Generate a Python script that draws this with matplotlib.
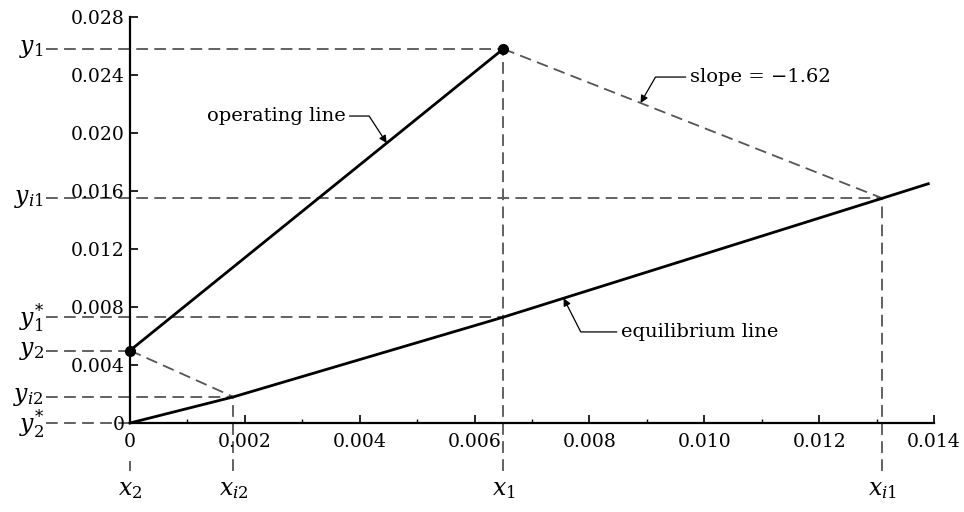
import numpy as np
import matplotlib.pyplot as plt

plt.rcParams['font.family'] = ['DejaVu Serif']
plt.rcParams['mathtext.fontset'] = 'dejavuserif'

# Compositions
x2, y2 = 0.0, 0.0050
x1, y1 = 0.0065, 0.0258
xi1, yi1 = 0.0131, 0.0155
xi2, yi2 = 0.0018, 0.0018
y1_star = 0.0073
y2_star = 0.0

# Equilibrium curve
eq_x = [0.0, 0.0018, 0.0065, 0.0131, 0.0139]
eq_y = [0.0, 0.0018, 0.0073, 0.0155, 0.0165]

# Operating line
op_x = [x2, x1]
op_y = [y2, y1]

x_ticks = [0, 0.002, 0.004, 0.006, 0.008, 0.010, 0.012, 0.014]
x_tick_labels = ['0', '0.002', '0.004', '0.006', '0.008', '0.010', '0.012', '0.014']
y_ticks = [0, 0.004, 0.008, 0.012, 0.016, 0.020, 0.024, 0.028]
y_tick_labels = ['0', '0.004', '0.008', '0.012', '0.016', '0.020', '0.024', '0.028']

fig = plt.figure(figsize=(9.64, 5.12), dpi=100)
ax = fig.add_axes([130 / 964, 89 / 512, 804 / 964, 406 / 512])
ax.set_xlim(0, 0.014)
ax.set_ylim(0, 0.028)

for s in ['top', 'right']:
    ax.spines[s].set_visible(False)
for s in ['left', 'bottom']:
    ax.spines[s].set_linewidth(1.6)

ax.set_xticks(x_ticks)
ax.set_xticklabels(x_tick_labels)
ax.set_xticks(np.arange(0.001, 0.014, 0.002), minor=True)
ax.set_yticks(y_ticks)
ax.set_yticklabels(y_tick_labels)
ax.tick_params(axis='both', which='major', direction='in', length=6, width=1.2,
               labelsize=13.5, colors='black')
ax.tick_params(axis='x', which='minor', direction='in', length=3, width=1.0)
ax.tick_params(axis='y', pad=4)
ax.tick_params(axis='x', pad=7)

dash = dict(color='#555555', lw=1.3, dashes=(6.5, 3.5), clip_on=False, zorder=1)
x_left = -0.00147   # where the left-hand dashed leaders start
y_low = -0.0033     # where the bottom dashed leaders end

# horizontal guides to the left labels
for yv, xv in [(y1, x1), (yi1, xi1), (y1_star, x1), (y2, x2), (yi2, xi2), (y2_star, 0.0)]:
    ax.plot([x_left, xv], [yv, yv], **dash)

# vertical guides down to the bottom labels
for xv, yv in [(x1, y1), (xi1, yi1), (xi2, yi2)]:
    ax.plot([xv, xv], [y_low, yv], **dash)
ax.plot([x2, x2], [-0.0026, y_low], **dash)

# tie lines of slope -1.62
ax.plot([x1, xi1], [y1, yi1], **dash)
ax.plot([x2, xi2], [y2, yi2], **dash)

# operating and equilibrium lines
ax.plot(op_x, op_y, color='black', lw=2.0, zorder=3, clip_on=False)
ax.plot(eq_x, eq_y, color='black', lw=2.0, zorder=3, clip_on=False)
ax.plot([x1, x2], [y1, y2], 'o', color='black', ms=7, zorder=4, clip_on=False)

# left-hand labels
lab_x = -0.0015
left_labels = [(y1, r'$y_1$'), (yi1, r'$y_{i1}$'), (y1_star, r'$y_1^{*}$'),
               (y2, r'$y_2$'), (yi2, r'$y_{i2}$'), (y2_star, r'$y_2^{*}$')]
for yv, txt in left_labels:
    ax.text(lab_x, yv, txt, ha='right', va='center', fontsize=17)

# bottom labels
bottom_labels = [(x2, r'$x_2$'), (xi2, r'$x_{i2}$'), (x1, r'$x_1$'), (xi1, r'$x_{i1}$')]
for xv, txt in bottom_labels:
    ax.text(xv, -0.0046, txt, ha='center', va='center', fontsize=17)

# leader annotations
arrow = dict(arrowstyle='-|>', color='black', lw=0.9, mutation_scale=11,
             shrinkA=1, shrinkB=0)

tip_x = 0.00447
ax.annotate('operating line', xy=(tip_x, np.interp(tip_x, op_x, op_y)),
            xytext=(0.00375, 0.02117), ha='right', va='center', fontsize=14,
            arrowprops=dict(connectionstyle='angle,angleA=0,angleB=123,rad=0', **arrow))

tip_x = 0.00755
ax.annotate('equilibrium line', xy=(tip_x, np.interp(tip_x, eq_x, eq_y)),
            xytext=(0.00855, 0.00628), ha='left', va='center', fontsize=14,
            arrowprops=dict(connectionstyle='angle,angleA=0,angleB=-63,rad=0', **arrow))

tip_x = 0.00889
ax.annotate('slope = \u22121.62', xy=(tip_x, np.interp(tip_x, [x1, xi1], [y1, yi1])),
            xytext=(0.00975, 0.02386), ha='left', va='center', fontsize=14,
            arrowprops=dict(connectionstyle='angle,angleA=0,angleB=60,rad=0', **arrow))

fig.savefig('out.png', dpi=100)
